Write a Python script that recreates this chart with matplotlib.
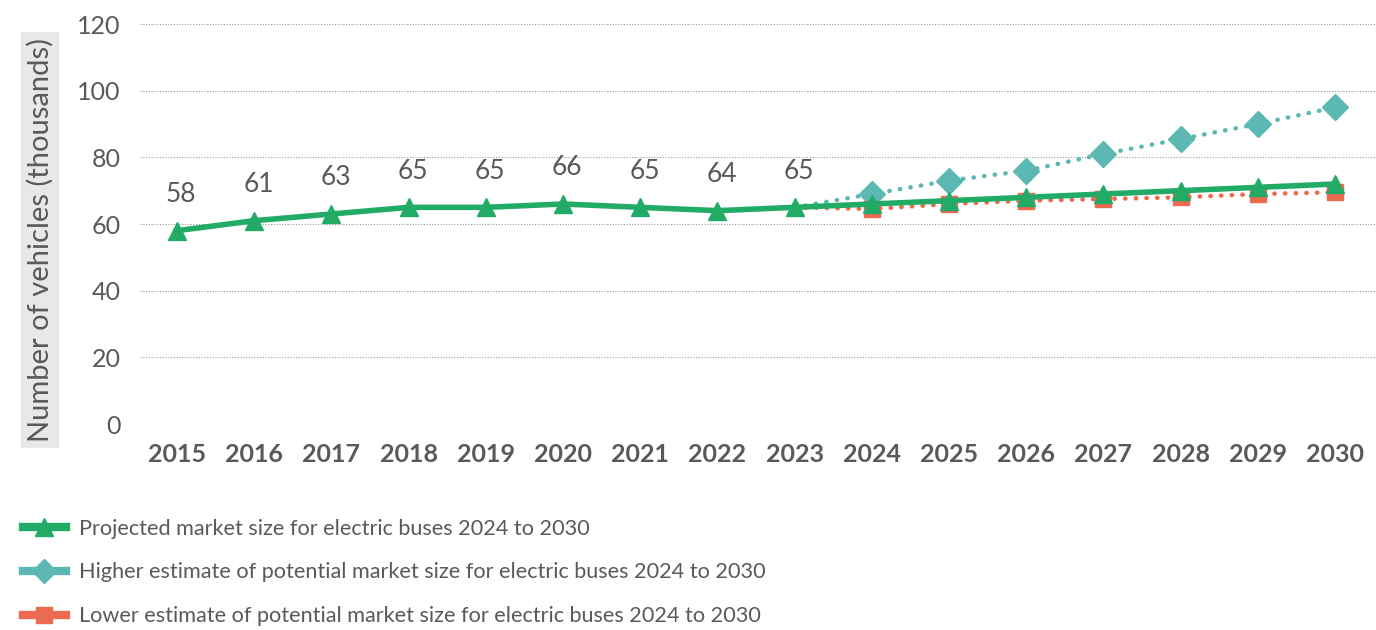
import matplotlib
matplotlib.use("Agg")
import matplotlib.pyplot as plt
from matplotlib.lines import Line2D

plt.rcParams["font.family"] = ["Lato", "DejaVu Sans"]

years = ["2015", "2016", "2017", "2018", "2019", "2020", "2021", "2022", "2023",
         "2024", "2025", "2026", "2027", "2028", "2029", "2030"]
historic = [58, 61, 63, 65, 65, 66, 65, 64, 65]
projected = [66, 67, 68, 69, 70, 71, 72]
higher = [69, 73, 76, 81, 85.5, 90, 95]
lower = [64.5, 66, 67, 67.5, 68, 69, 69.5]

GREEN = "#22ab66"
TEAL = "#5bb8b3"
RED = "#ec6a50"
TEXT = "#595959"

x_all = list(range(len(years)))
n_hist = len(historic)
main = historic + projected
# estimates branch off the last actual year
x_est = x_all[n_hist - 1:]
higher_line = [historic[-1]] + higher
lower_line = [historic[-1]] + lower

fig = plt.figure(figsize=(13.76, 6.3), dpi=100)
ax = fig.add_axes([140 / 1376, 1 - 424 / 630, 1236 / 1376, 400 / 630])

ax.plot(x_est, higher_line, color=TEAL, lw=3.2, linestyle=(0, (0.1, 2.3)),
        dash_capstyle="round", marker="D", markersize=13,
        markevery=list(range(1, len(higher_line))), zorder=2)
ax.plot(x_est, lower_line, color=RED, lw=3.2, linestyle=(0, (0.1, 2.3)),
        dash_capstyle="round", marker="s", markersize=12,
        markevery=list(range(1, len(lower_line))), zorder=3)
ax.plot(x_all, main, color=GREEN, lw=4, marker="^", markersize=13,
        solid_joinstyle="round", zorder=4)

for i, v in enumerate(historic):
    ax.annotate(str(v), (i, v), xytext=(3, 26), textcoords="offset points",
                ha="center", va="center", fontsize=19, color=TEXT)

ax.set_xlim(-0.48, len(years) - 0.47)
ax.set_ylim(0, 120)
ax.set_yticks(range(0, 121, 20))
ax.set_xticks(x_all)
ax.set_xticklabels(years, fontsize=18, fontweight="bold", color=TEXT)
ax.tick_params(axis="y", labelsize=18, labelcolor=TEXT, length=0, pad=14)
ax.tick_params(axis="x", length=0, pad=14)
ax.grid(axis="y", color="#9a9a9a", linestyle=(0, (1, 1.5)), linewidth=0.8)
ax.set_axisbelow(True)
for s in ax.spines.values():
    s.set_visible(False)

fig.text(40 / 1376, 1 - 240 / 630, "Number of vehicles (thousands)",
         rotation=90, ha="center", va="center", fontsize=21, color=TEXT,
         bbox=dict(boxstyle="square,pad=0.2", facecolor="#e8e8e8",
                   edgecolor="none"))

handles = [
    Line2D([], [], color=GREEN, lw=6, marker="^", markersize=13),
    Line2D([], [], color=TEAL, lw=6, marker="D", markersize=12),
    Line2D([], [], color=RED, lw=6, marker="s", markersize=12),
]
labels = [
    "Projected market size for electric buses 2024 to 2030",
    "Higher estimate of potential market size for electric buses 2024 to 2030",
    "Lower estimate of potential market size for electric buses 2024 to 2030",
]
leg = fig.legend(handles, labels, loc="upper left",
                 bbox_to_anchor=(14 / 1376, 1 - 510 / 630), frameon=False,
                 fontsize=15.6, labelspacing=1.1, handlelength=2.0,
                 handletextpad=0.6, borderaxespad=0)
for t in leg.get_texts():
    t.set_color(TEXT)

fig.savefig("out.png", dpi=100)
